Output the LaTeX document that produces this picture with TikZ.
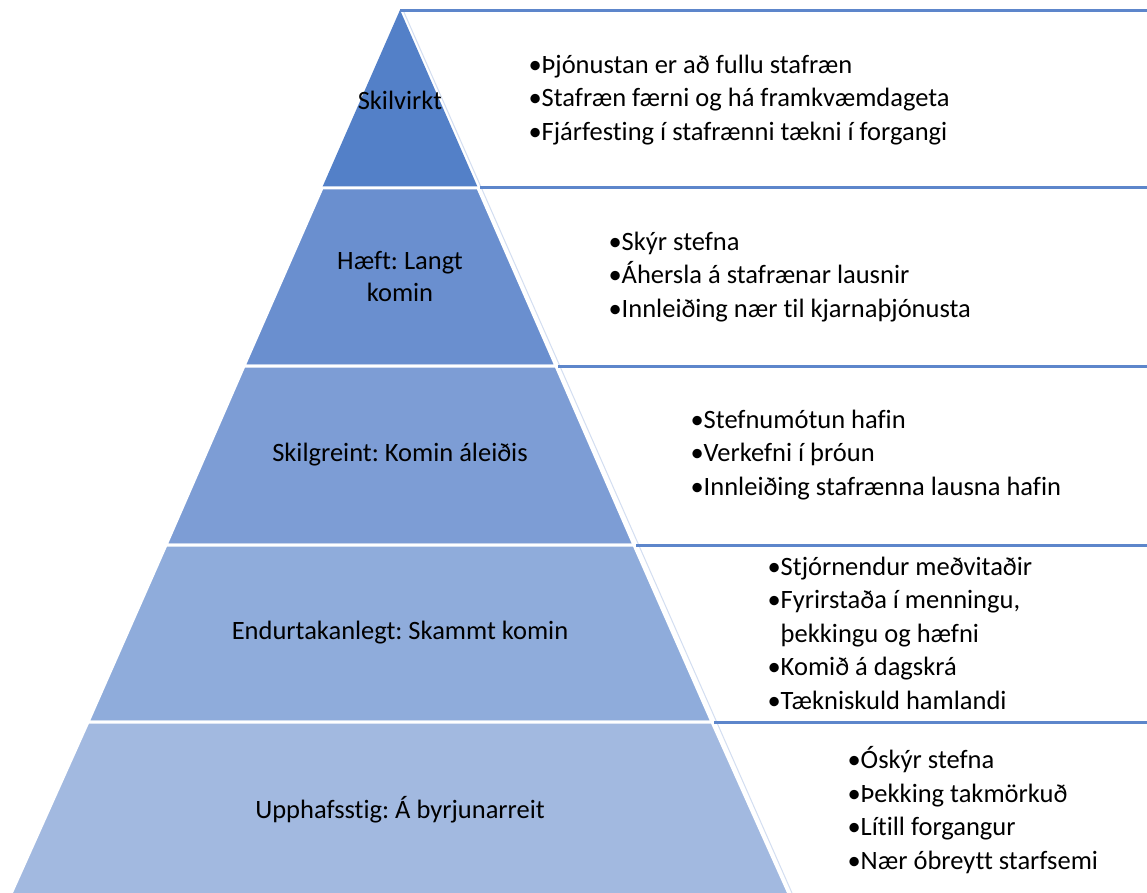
\documentclass[tikz,border=0pt]{standalone}
\usepackage{fontspec}
\setmainfont{Carlito}[Ligatures=CommonOff]
\frenchspacing
\definecolor{tierA}{HTML}{5380C8}
\definecolor{tierB}{HTML}{6A8FCF}
\definecolor{tierC}{HTML}{7D9DD5}
\definecolor{tierD}{HTML}{8FACDB}
\definecolor{tierE}{HTML}{A2B9E0}
\definecolor{ruleblue}{HTML}{5D86CB}
\definecolor{edgeblue}{HTML}{D3DEF1}
\newcommand{\bul}{•}
\newcommand{\nobul}{\hphantom{•}}
\begin{document}
\begin{tikzpicture}[x=1pt,y=-1pt,
  tier/.style={draw=white,line width=3,line join=miter},
  rulerline/.style={line width=3,color=ruleblue},
  tiertext/.style={align=center,font=\fontsize{26.5}{32}\selectfont\frenchspacing},
  bullets/.style={align=left,anchor=west,font=\fontsize{26.5}{33.5}\selectfont\frenchspacing}]
            \useasboundingbox (0,0) rectangle (1147,893);
            \fill [white] (0,0) rectangle (1147,893);
            % top tier
            \fill [tierA] (400,10) -- (478,188) -- (322,188) -- cycle;
            \node [tiertext] (skilvirkt) at (400,100) {Skilvirkt};
            % second tier
            \filldraw [tier,fill=tierB] (322,188) -- (478,188) -- (556,366) -- (244,366) -- cycle;
            \node [tiertext] (haeft) at (400,277) {Hæft: Langt\\komin};
            % third tier
            \filldraw [tier,fill=tierC] (244,366) -- (556,366) -- (634,545) -- (166,545) -- cycle;
            \node [tiertext] (skilgreint) at (400,455) {Skilgreint: Komin áleiðis};
            % fourth tier
            \filldraw [tier,fill=tierD] (166,545) -- (634,545) -- (712,722) -- (88,722) -- cycle;
            \node [tiertext] (endurtak) at (400,633) {Endurtakanlegt: Skammt komin};
            % bottom tier
            \filldraw [tier,fill=tierE] (88,722) -- (712,722) -- (790,896) -- (10,896) -- cycle;
            \node [tiertext] (upphaf) at (400,810) {Upphafsstig: Á byrjunarreit};
            % faint line along the right side
            \draw [line width=1, edgeblue] (403,10) -- (792,893);
            % rules to the right
            \draw [rulerline] (400,11) -- (1147,11);
            \draw [rulerline] (480,188) -- (1147,188);
            \draw [rulerline] (558,366) -- (1147,366);
            \draw [rulerline] (636,545) -- (1147,545);
            \draw [rulerline] (714,722) -- (1147,722);
            % bullet lists
            \node [bullets] (listA) at (525,100) {\bul Þjónustan er að fullu stafræn\\\bul Stafræn færni og há framkvæmdageta\\\bul Fjárfesting í stafrænni tækni í forgangi};
            \node [bullets] (listB) at (605,277) {\bul Skýr stefna\\\bul Áhersla á stafrænar lausnir\\\bul Innleiðing nær til kjarnaþjónusta};
            \node [bullets] (listC) at (687,455) {\bul Stefnumótun hafin\\\bul Verkefni í þróun\\\bul Innleiðing stafrænna lausna hafin};
            \node [bullets] (listD) at (764,633) {\bul Stjórnendur meðvitaðir\\\bul Fyrirstaða í menningu,\\\nobul þekkingu og hæfni\\\bul Komið á dagskrá\\\bul Tækniskuld hamlandi};
            \node [bullets] (listE) at (844,810) {\bul Óskýr stefna\\\bul Þekking takmörkuð\\\bul Lítill forgangur\\\bul Nær óbreytt starfsemi};
         \end{tikzpicture}
\end{document}
